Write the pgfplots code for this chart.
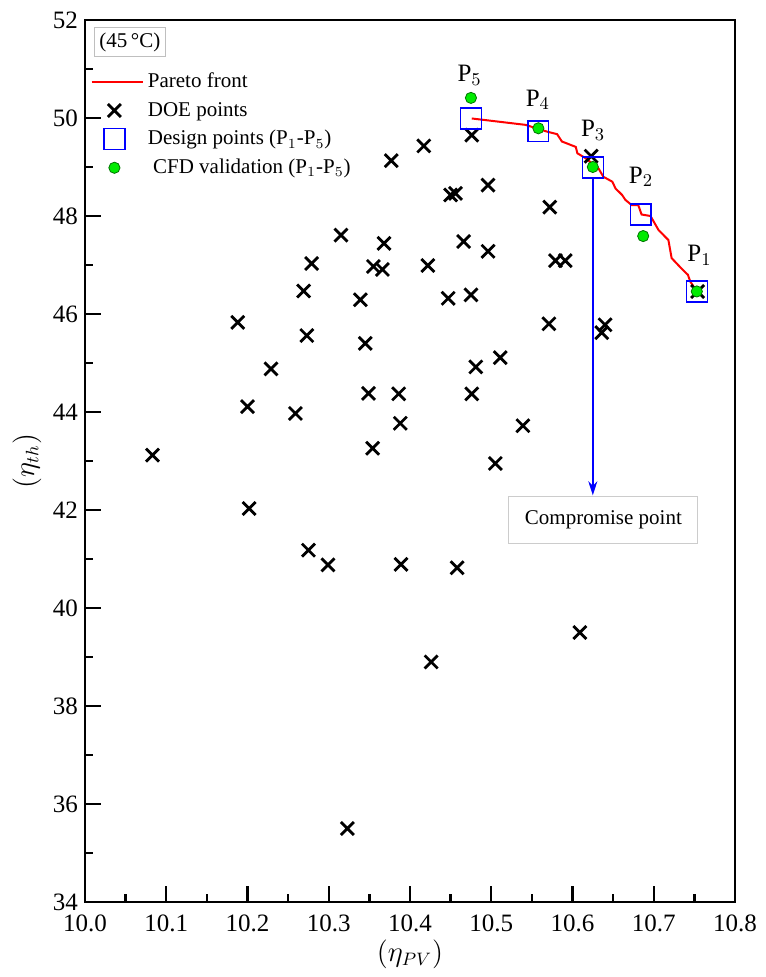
\documentclass[border=0pt]{standalone}
\usepackage{fontspec}
\setmainfont{Liberation Serif}
\usepackage{pgfplots}
\pgfplotsset{compat=1.18}
\usetikzlibrary{arrows.meta}
\definecolor{cfdgreen}{RGB}{0,235,0}
\begin{document}
\begin{tikzpicture}
\begin{axis}[
  name=ax,
  scale only axis,
  width=325pt, height=441pt,
  xmin=10.0, xmax=10.8, ymin=34, ymax=52,
  xtick={10.0,10.1,...,10.8},
  ytick={34,36,...,52},
  minor x tick num=1, minor y tick num=1,
  tick pos=left, tick align=inside,
  major tick length=8pt, minor tick length=4pt,
  axis line style={line width=1.2pt},
  every tick/.style={black, line width=1.2pt},
  /pgf/number format/assume math mode=true,
  tick label style={font=\fontsize{12.5}{14}\selectfont},
  xticklabel style={yshift=-3pt, /pgf/number format/.cd, fixed, fixed zerofill, precision=1},
  yticklabel style={/pgf/number format/.cd, fixed, precision=0},
  xlabel={$\left(\eta_{PV}\right)$},
  ylabel={$\left(\eta_{th}\right)$},
  label style={font=\fontsize{13.5}{15}\selectfont},
  xlabel style={yshift=3pt},
  ylabel style={yshift=-1pt},
  clip=false,
  legend style={at={(rel axis cs:0.005,0.947)}, anchor=north west, draw=none, fill=none,
    font=\fontsize{10.5}{12}\selectfont, row sep=1.6pt, inner sep=1pt},
  legend cell align=left,
]
% Pareto front
\addplot[red, line width=1pt, no marks,
  legend image code/.code={\draw[red, line width=1pt] (-0.1cm,0cm) -- (0.8cm,0cm);}]
coordinates {
(10.476,49.99) (10.542,49.86) (10.569,49.72) (10.581,49.67) (10.587,49.52)
(10.604,49.41) (10.606,49.28) (10.616,49.18) (10.632,48.97) (10.638,48.80)
(10.649,48.70) (10.653,48.56) (10.661,48.43) (10.665,48.33) (10.673,48.22)
(10.681,48.22) (10.685,48.03) (10.696,48.00) (10.706,47.71) (10.718,47.51)
(10.722,47.14) (10.734,46.93) (10.742,46.80) (10.745,46.66) (10.753,46.46)
};
\addlegendentry{Pareto front}
% DOE points
\addplot[only marks, mark=x, mark size=4.6pt, black, line width=1.4pt]
coordinates {
(10.279,47.03) (10.269,46.47) (10.188,45.83) (10.273,45.56) (10.229,44.88)
(10.200,44.11) (10.259,43.97) (10.083,43.12) (10.202,42.03) (10.275,41.18)
(10.299,40.88) (10.496,47.28) (10.355,46.97) (10.366,46.91) (10.422,46.99)
(10.579,47.09) (10.591,47.09) (10.339,46.29) (10.447,46.32) (10.475,46.39)
(10.571,45.80) (10.345,45.40) (10.481,44.92) (10.511,45.11) (10.349,44.38)
(10.386,44.37) (10.476,44.37) (10.388,43.77) (10.539,43.72) (10.354,43.26)
(10.505,42.95) (10.389,40.89) (10.458,40.82) (10.609,39.50) (10.426,38.90)
(10.323,35.50) (10.640,45.78) (10.636,45.62) (10.754,46.46) (10.476,49.65)
(10.417,49.43) (10.377,49.13) (10.496,48.63) (10.450,48.43) (10.456,48.46)
(10.572,48.18) (10.315,47.61) (10.368,47.44) (10.466,47.48) (10.623,49.22)
};
\addlegendentry{DOE points}
% Design points
\addplot[only marks, mark=square, mark size=5.2pt, blue, line width=0.7pt]
coordinates {
(10.475,49.99) (10.558,49.73) (10.625,48.99) (10.684,48.03) (10.753,46.46)
};
\addlegendentry{Design points (P$_1$-P$_5$)}
% CFD validation
\addplot[only marks, mark=*, mark size=2.8pt, draw=green!45!black, fill=cfdgreen, line width=0.4pt]
coordinates {
(10.475,50.41) (10.558,49.79) (10.625,49.00) (10.687,47.59) (10.753,46.46)
};
\addlegendentry{\ CFD validation (P$_1$-P$_5$)}
% labels
\node[anchor=base west, inner sep=0pt, font=\fontsize{12.5}{14}\selectfont] at (axis cs:10.458,50.74) {P$_5$};
\node[anchor=base west, inner sep=0pt, font=\fontsize{12.5}{14}\selectfont] at (axis cs:10.542,50.24) {P$_4$};
\node[anchor=base west, inner sep=0pt, font=\fontsize{12.5}{14}\selectfont] at (axis cs:10.610,49.62) {P$_3$};
\node[anchor=base west, inner sep=0pt, font=\fontsize{12.5}{14}\selectfont] at (axis cs:10.669,48.67) {P$_2$};
\node[anchor=base west, inner sep=0pt, font=\fontsize{12.5}{14}\selectfont] at (axis cs:10.741,47.07) {P$_1$};
% compromise arrow and box
\draw[blue, line width=0.9pt, -{Stealth[length=7pt,width=4.5pt]}] (axis cs:10.625,48.78) -- (axis cs:10.625,42.30);
\node[draw=black!20, line width=0.6pt, fill=white, minimum width=94.5pt, minimum height=23.5pt,
  font=\fontsize{10.5}{12}\selectfont] at (axis cs:10.638,41.80) {Compromise point};
% temperature box
\node[draw=black!25, line width=0.6pt, inner sep=2.5pt, font=\fontsize{10.5}{12}\selectfont]
  at (rel axis cs:0.069,0.975) {(45\,°C)};
\end{axis}
\path ([xshift=-42.5pt,yshift=-37.5pt]ax.south west) rectangle ([xshift=15pt,yshift=10pt]ax.north east);
\end{tikzpicture}
\end{document}
